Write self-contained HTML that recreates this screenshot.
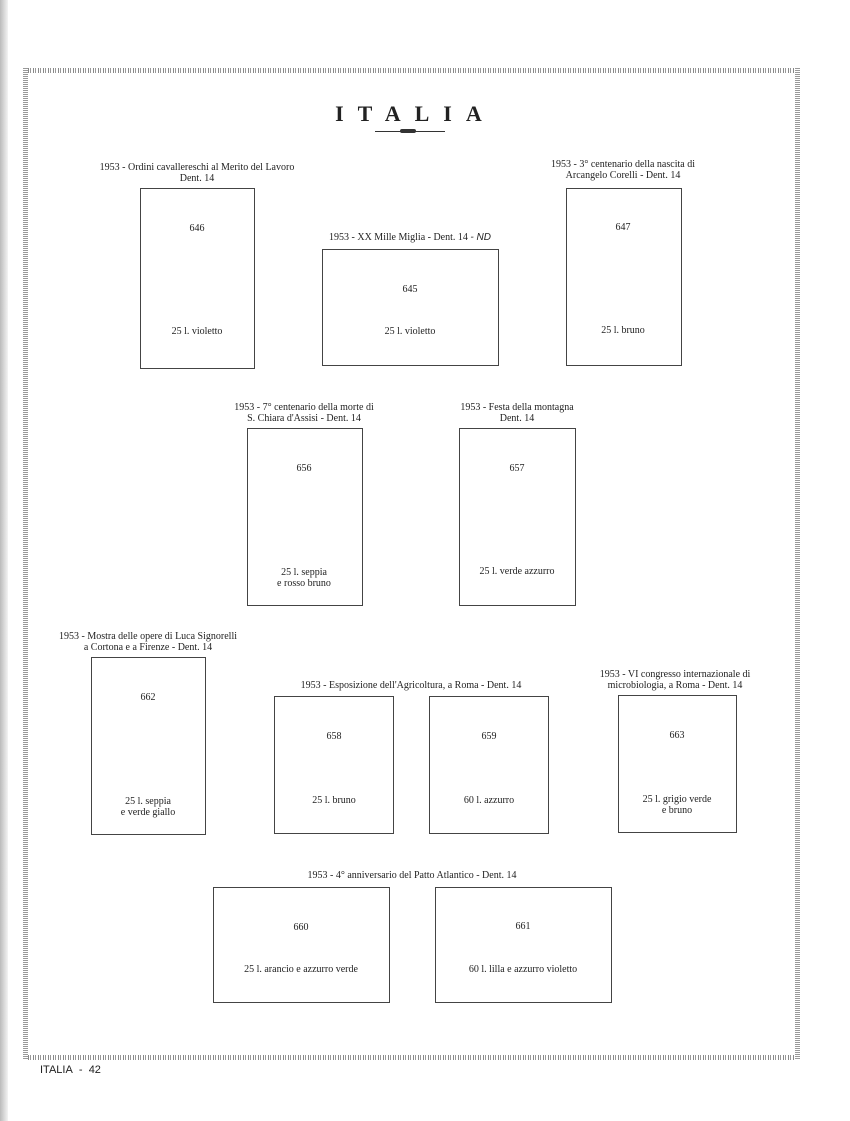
<!DOCTYPE html>
<html><head><meta charset="utf-8"><style>
body{margin:0;width:850px;height:1121px;background:#fff;position:relative;overflow:hidden;font-family:"Liberation Serif",serif;color:#222}
.a{position:absolute}
.b{position:absolute;border:1px solid #444;box-sizing:border-box}
.t{position:absolute;font-size:10px;line-height:11px;text-align:center;white-space:nowrap;transform:translateX(-50%)}
.hz{position:absolute;height:5px;background:repeating-linear-gradient(90deg,#888 0 1px,#fff 1px 2px,#999 2px 3px,#fff 3px 5px)}
.vt{position:absolute;width:5px;background:repeating-linear-gradient(180deg,#999 0 1px,#fff 1px 2px)}
</style></head><body>
<div class="a" style="left:0;top:0;width:8px;height:1121px;background:linear-gradient(90deg,#bbb,#ddd 60%,#f3f3f3)"></div>
<div class="hz" style="left:23px;top:68px;width:777px"></div>
<div class="hz" style="left:23px;top:1055px;width:777px"></div>
<div class="vt" style="left:23px;top:68px;height:992px"></div>
<div class="vt" style="left:795px;top:68px;height:992px"></div>
<div class="a" style="left:40px;top:1064px;font-family:'Liberation Sans',sans-serif;font-size:11px">ITALIA&nbsp; - &nbsp;42</div>
<div class="t" style="left:409px;top:102px;font-size:22px;line-height:24px;letter-spacing:14px;font-weight:bold;transform:translateX(-46%)">ITALIA</div>
<div class="a" style="left:375px;top:131px;width:70px;height:1px;background:#333"></div>
<div class="a" style="left:400px;top:129px;width:16px;height:4px;background:#333;border-radius:2px"></div>

<div class="t" style="left:197px;top:162px">1953 - Ordini cavallereschi al Merito del Lavoro<br>Dent. 14</div>
<div class="b" style="left:140px;top:188px;width:115px;height:181px"></div>
<div class="t" style="left:197px;top:223px">646</div>
<div class="t" style="left:197px;top:326px">25 l. violetto</div>

<div class="t" style="left:410px;top:232px">1953 - XX Mille Miglia - Dent. 14 <span style="font-style:italic;font-family:'Liberation Sans',sans-serif">- ND</span></div>
<div class="b" style="left:322px;top:249px;width:177px;height:117px"></div>
<div class="t" style="left:410px;top:284px">645</div>
<div class="t" style="left:410px;top:326px">25 l. violetto</div>

<div class="t" style="left:623px;top:159px">1953 - 3° centenario della nascita di<br>Arcangelo Corelli - Dent. 14</div>
<div class="b" style="left:566px;top:188px;width:116px;height:178px"></div>
<div class="t" style="left:623px;top:222px">647</div>
<div class="t" style="left:623px;top:325px">25 l. bruno</div>

<div class="t" style="left:304px;top:402px">1953 - 7° centenario della morte di<br>S. Chiara d'Assisi - Dent. 14</div>
<div class="b" style="left:247px;top:428px;width:116px;height:178px"></div>
<div class="t" style="left:304px;top:463px">656</div>
<div class="t" style="left:304px;top:567px">25 l. seppia<br>e rosso bruno</div>

<div class="t" style="left:517px;top:402px">1953 - Festa della montagna<br>Dent. 14</div>
<div class="b" style="left:459px;top:428px;width:117px;height:178px"></div>
<div class="t" style="left:517px;top:463px">657</div>
<div class="t" style="left:517px;top:566px">25 l. verde azzurro</div>

<div class="t" style="left:148px;top:631px">1953 - Mostra delle opere di Luca Signorelli<br>a Cortona e a Firenze - Dent. 14</div>
<div class="b" style="left:91px;top:657px;width:115px;height:178px"></div>
<div class="t" style="left:148px;top:692px">662</div>
<div class="t" style="left:148px;top:796px">25 l. seppia<br>e verde giallo</div>

<div class="t" style="left:411px;top:680px">1953 - Esposizione dell'Agricoltura, a Roma - Dent. 14</div>
<div class="b" style="left:274px;top:696px;width:120px;height:138px"></div>
<div class="t" style="left:334px;top:731px">658</div>
<div class="t" style="left:334px;top:795px">25 l. bruno</div>
<div class="b" style="left:429px;top:696px;width:120px;height:138px"></div>
<div class="t" style="left:489px;top:731px">659</div>
<div class="t" style="left:489px;top:795px">60 l. azzurro</div>

<div class="t" style="left:675px;top:669px">1953 - VI congresso internazionale di<br>microbiologia, a Roma - Dent. 14</div>
<div class="b" style="left:618px;top:695px;width:119px;height:138px"></div>
<div class="t" style="left:677px;top:730px">663</div>
<div class="t" style="left:677px;top:794px">25 l. grigio verde<br>e bruno</div>

<div class="t" style="left:412px;top:870px">1953 - 4° anniversario del Patto Atlantico - Dent. 14</div>
<div class="b" style="left:213px;top:887px;width:177px;height:116px"></div>
<div class="t" style="left:301px;top:922px">660</div>
<div class="t" style="left:301px;top:964px">25 l. arancio e azzurro verde</div>
<div class="b" style="left:435px;top:887px;width:177px;height:116px"></div>
<div class="t" style="left:523px;top:921px">661</div>
<div class="t" style="left:523px;top:964px">60 l. lilla e azzurro violetto</div>
</body></html>
